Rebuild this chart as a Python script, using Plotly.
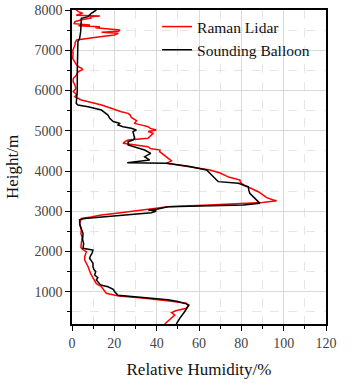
import plotly.graph_objects as go

# Sounding Balloon (black)
balloon_h = [200, 340, 505, 600, 672, 700, 760, 800, 863, 913, 1002, 1060, 1126, 1160, 1193,
             1293, 1350, 1417, 1500, 1560, 1623, 1708, 1780, 1832, 1900, 1960, 2038, 2060, 2080,
             2200, 2300, 2453, 2530, 2650, 2747, 2790, 2823, 2900, 2963, 3000, 3013, 3030, 3050,
             3113, 3156, 3197, 3238, 3280, 3350, 3446, 3530, 3611, 3694, 3736, 3777, 3850, 3950,
             4025, 4120, 4191, 4206, 4273, 4356, 4400, 4440, 4522, 4580, 4646, 4729, 4770, 4812,
             4900, 4977, 5019, 5060, 5100, 5143, 5184, 5230, 5308, 5391, 5450, 5515, 5598, 5640,
             5681, 6000, 6500, 7050, 7215, 7297, 7462, 7793, 7835, 7917, 8000]
balloon_rh = [49.3, 50.9, 53.2, 54.5, 55.2, 54.0, 50.0, 45.3, 29.6, 21.7, 20.2, 19.5, 17.0, 14.0, 13.1,
              11.5, 12.2, 10.7, 11.2, 10.3, 9.9, 9.9, 9.0, 8.3, 8.8, 9.5, 9.9, 6.0, 5.2,
              5.5, 5.0, 5.2, 4.6, 3.8, 3.6, 3.6, 6.0, 25.0, 37.5, 39.5, 39.8, 36.0, 40.0,
              45.3, 80.9, 88.8, 88.0, 87.2, 85.5, 84.0, 83.5, 83.3, 78.6, 69.1, 68.3, 67.0, 65.0,
              63.6, 55.0, 44.7, 26.1, 36.7, 34.3, 35.5, 37.2, 34.3, 30.0, 26.5, 26.5, 28.8, 29.6,
              29.3, 28.8, 30.4, 28.0, 24.1, 21.7, 22.5, 19.5, 17.8, 17.0, 15.5, 13.9, 7.6, 2.8,
              2.0, 2.5, 2.5, 2.5, 2.8, 3.6, 4.1, 4.4, 7.6, 9.1, 11.5]

# Raman Lidar (red)
lidar_h = [200, 300, 424, 480, 530, 590, 650, 714, 780, 850, 895, 962, 1050, 1126, 1200, 1335,
           1450, 1623, 1700, 1790, 1873, 1950, 1997, 2050, 2100, 2205, 2350, 2450, 2535, 2700,
           2823, 2860, 2907, 2960, 3013, 3060, 3113, 3170, 3220, 3263, 3280, 3340, 3404, 3486,
           3560, 3652, 3736, 3777, 3850, 3950, 4025, 4067, 4120, 4191, 4250, 4315, 4400, 4481,
           4522, 4560, 4605, 4650, 4689, 4730, 4770, 4812, 4870, 4936, 4980, 5019, 5060, 5100,
           5140, 5184, 5250, 5330, 5390, 5433, 5474, 5530, 5598, 5640, 5681, 5720, 5764, 5847,
           5900, 5970, 6050, 6135, 6220, 6300, 6380, 6470, 6520, 6550, 6594, 6650, 6717, 6799,
           6900, 7000, 7132, 7200, 7254, 7297, 7338, 7380, 7421, 7450, 7470, 7503, 7530, 7560,
           7587, 7610, 7627, 7660, 7710, 7750, 7800, 7835, 7850, 7870, 7920, 7960, 8000]
lidar_rh = [43.8, 46.0, 48.5, 47.0, 49.0, 54.0, 55.0, 54.0, 45.0, 32.0, 22.0, 16.2, 15.0, 13.9, 11.5, 9.9,
            8.8, 7.6, 7.0, 6.0, 6.0, 6.5, 6.8, 5.0, 4.2, 4.4, 4.8, 4.2, 4.4, 3.6,
            4.4, 9.0, 13.9, 22.0, 29.6, 38.0, 45.3, 70.0, 90.0, 96.7, 95.1, 92.0, 90.4, 88.0,
            85.0, 80.9, 79.4, 79.4, 74.0, 70.0, 65.2, 59.5, 52.0, 44.7, 47.0, 45.3, 43.0, 41.4,
            41.6, 37.0, 35.9, 30.0, 24.1, 25.0, 26.5, 35.9, 37.0, 38.3, 36.0, 39.8, 37.0, 35.9,
            33.0, 29.6, 30.5, 28.0, 27.5, 26.5, 23.3, 20.0, 17.0, 14.0, 10.7, 7.0, 4.4, 1.3,
            2.2, 0.6, 1.8, 1.4, 0.5, 0.6, 2.0, 3.0, 5.0, 4.6, 3.0, 2.0, 1.4, 0.3,
            0.5, 0.4, 1.4, 1.5, 2.2, 6.9, 13.2, 20.0, 21.9, 14.0, 22.0, 22.7, 15.0, 11.0,
            13.2, 3.0, 8.5, 1.0, 1.4, 4.0, 9.0, 8.5, 13.2, 2.0, 5.0, 3.0, 2.0]

x_ticks = [0, 20, 40, 60, 80, 100, 120]
y_ticks = [1000, 2000, 3000, 4000, 5000, 6000, 7000, 8000]

FONT = "Liberation Serif, Times New Roman, serif"

fig = go.Figure()
fig.add_trace(go.Scatter(x=lidar_rh, y=lidar_h, mode="lines", name="Raman Lidar",
                         line=dict(color="#ff0000", width=1.5)))
fig.add_trace(go.Scatter(x=balloon_rh, y=balloon_h, mode="lines", name="Sounding Balloon",
                         line=dict(color="#000000", width=1.5)))

axis_common = dict(
    showline=True, linecolor="black", linewidth=1.5, mirror=True,
    ticks="outside", ticklen=5, tickwidth=1, tickcolor="black",
    showgrid=True, gridcolor="#d9d9d9", gridwidth=1,
    tickfont=dict(family=FONT, size=14, color="#444444"),
    zeroline=False, ticklabeloverflow="allow",
)

fig.update_xaxes(
    range=[0, 120], tickvals=x_ticks, ticktext=[str(v) for v in x_ticks],
    title=dict(text="Relative Humidity/%", font=dict(family=FONT, size=17, color="#111111"), standoff=14),
    minor=dict(dtick=10, tick0=0, ticks="outside", ticklen=3, tickcolor="black",
               showgrid=True, gridcolor="#e6e6e6", griddash="dash"),
    **axis_common,
)
fig.update_yaxes(
    range=[200, 8000], tickvals=y_ticks, ticktext=[str(v) for v in y_ticks],
    title=dict(text="Height/m", font=dict(family=FONT, size=17, color="#111111"), standoff=12),
    minor=dict(dtick=500, tick0=0, ticks="outside", ticklen=3, tickcolor="black",
               showgrid=True, gridcolor="#e6e6e6", griddash="dash"),
    **axis_common,
)

fig.update_layout(
    width=356, height=383,
    margin=dict(l=72, r=30, t=10, b=59, autoexpand=False),
    paper_bgcolor="white", plot_bgcolor="white",
    showlegend=True,
    legend=dict(x=0.335, y=1.0, xanchor="left", yanchor="top",
                bgcolor="rgba(0,0,0,0)", font=dict(family=FONT, size=15.5, color="#111111"),
                tracegroupgap=0, itemwidth=30),
    font=dict(family=FONT),
)

fig.write_html("out.html", config={"displayModeBar": False},
               post_script="document.body.style.margin='0';")
